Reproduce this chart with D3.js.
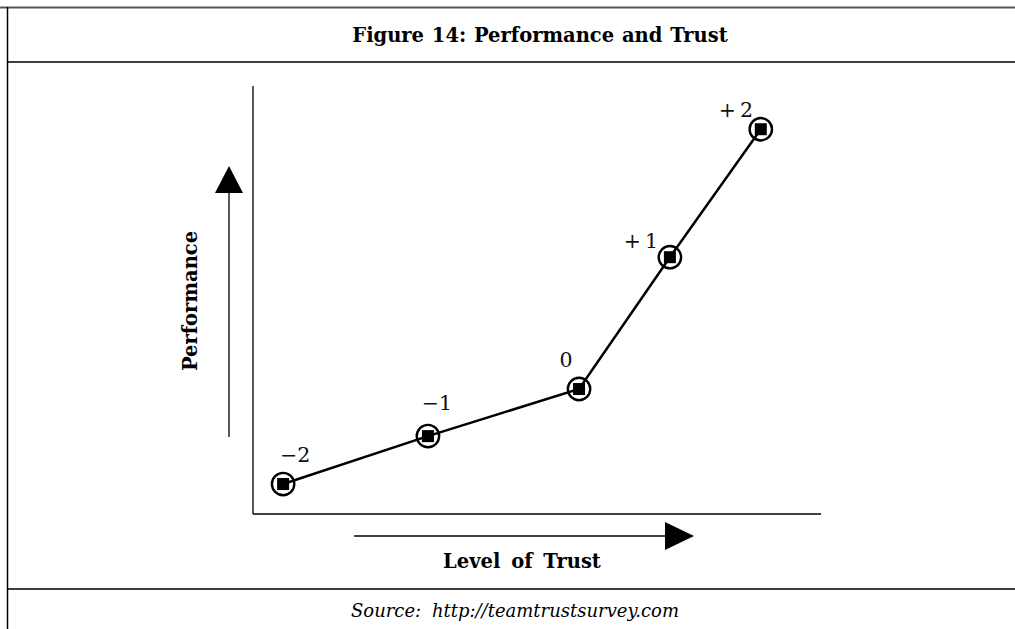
<!DOCTYPE html>
<html><head><meta charset="utf-8">
<script src="https://cdn.jsdelivr.net/npm/d3@7"></script>
<style>html,body{margin:0;padding:0;background:#fff;overflow:hidden}</style>
</head><body>
<svg id="c" width="1015" height="629"></svg>
<script>
const levels = ["\u22122", "\u22121", "0", "+1", "+2"];
const trustValues = [0.53, 3.08, 5.74, 7.34, 8.94];
const performanceValues = [0.70, 1.82, 2.92, 6.0, 8.99];
const title = "Figure 14: Performance and Trust";
const xLabel = "Level of Trust";
const yLabel = "Performance";
const source = "Source: http://teamtrustsurvey.com";

const svg = d3.select("#c");
const serif = "'DejaVu Serif', serif";

// frame
svg.append("line").attr("x1",0).attr("x2",1015).attr("y1",7.5).attr("y2",7.5).attr("stroke","#555").attr("stroke-width",2);
svg.append("line").attr("x1",7.5).attr("x2",7.5).attr("y1",7).attr("y2",629).attr("stroke","#000").attr("stroke-width",1.5);
svg.append("line").attr("x1",7).attr("x2",1015).attr("y1",62).attr("y2",62).attr("stroke","#000").attr("stroke-width",1.5);
svg.append("line").attr("x1",7).attr("x2",1015).attr("y1",589).attr("y2",589).attr("stroke","#000").attr("stroke-width",1.5);

svg.append("text").attr("x",540).attr("y",42).attr("text-anchor","middle")
  .attr("font-family",serif).attr("font-weight","bold").attr("font-size",19.5)
  .attr("word-spacing",1).text(title);
svg.append("text").attr("x",515).attr("y",617).attr("text-anchor","middle")
  .attr("font-family",serif).attr("font-style","italic").attr("font-size",18)
  .attr("word-spacing",5).text(source);

const x = d3.scaleLinear().domain([0,10]).range([253,821]);
const y = d3.scaleLinear().domain([0,10]).range([514,86]);

// axes
svg.append("line").attr("x1",x(0)).attr("x2",x(0)).attr("y1",y(10)).attr("y2",y(0)).attr("stroke","#000").attr("stroke-width",1.3);
svg.append("line").attr("x1",x(0)).attr("x2",x(10)).attr("y1",y(0)).attr("y2",y(0)).attr("stroke","#000").attr("stroke-width",1.3);

// arrows
svg.append("line").attr("x1",229).attr("x2",229).attr("y1",437).attr("y2",192).attr("stroke","#000").attr("stroke-width",1.3);
svg.append("path").attr("d","M215,193 L243,193 L229,166 Z").attr("fill","#000");
svg.append("line").attr("x1",354).attr("x2",666).attr("y1",536).attr("y2",536).attr("stroke","#000").attr("stroke-width",1.3);
svg.append("path").attr("d","M665,522 L665,550 L694,536 Z").attr("fill","#000");

svg.append("text").attr("transform","translate(197,301) rotate(-90)").attr("text-anchor","middle")
  .attr("font-family",serif).attr("font-weight","bold").attr("font-size",19.5).text(yLabel);
svg.append("text").attr("x",522).attr("y",568).attr("text-anchor","middle")
  .attr("font-family",serif).attr("font-weight","bold").attr("font-size",19.5)
  .attr("word-spacing",4).text(xLabel);

const data = levels.map((l,i)=>({l, t:trustValues[i], p:performanceValues[i]}));
const line = d3.line().x(d=>x(d.t)).y(d=>y(d.p));
svg.append("path").datum(data).attr("d",line).attr("fill","none").attr("stroke","#000").attr("stroke-width",2.5);

const g = svg.selectAll("g.pt").data(data).join("g").attr("class","pt");
g.append("circle").attr("cx",d=>x(d.t)).attr("cy",d=>y(d.p)).attr("r",11.2).attr("fill","none").attr("stroke","#000").attr("stroke-width",2.4);
g.append("rect").attr("x",d=>x(d.t)-6).attr("y",d=>y(d.p)-6).attr("width",12).attr("height",12).attr("fill","#000");

const labelOff = [[12,-22],[9,-26],[-13,-22],[-29,-9],[-25,-12]];
g.append("text").attr("x",(d,i)=>x(d.t)+labelOff[i][0]).attr("y",(d,i)=>y(d.p)+labelOff[i][1])
  .attr("text-anchor","middle").attr("font-family",serif).attr("font-size",20.5).attr("fill","#111")
  .text(d=>d.l.replace("+","+\u2009"));
</script>
</body></html>
